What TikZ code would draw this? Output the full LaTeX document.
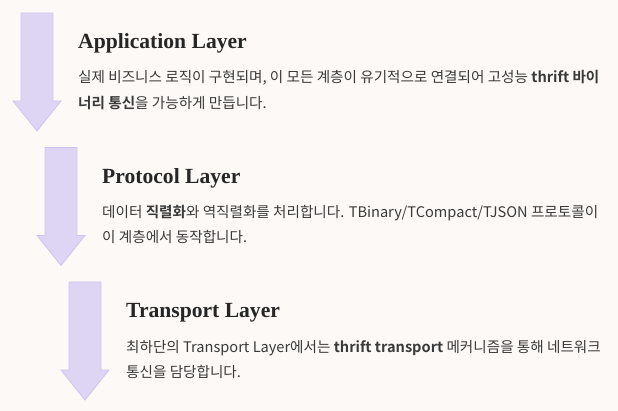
\documentclass[tikz,border=0pt]{standalone}
\usepackage{fontspec}
\setmainfont{Noto Sans CJK KR}[BoldFont={Noto Sans CJK KR Bold}]
\newfontfamily\headfont{Liberation Serif}
\definecolor{paper}{HTML}{FDF9F6}
\definecolor{lav}{HTML}{DDD5F3}
\definecolor{lavline}{HTML}{CFC5EE}
\definecolor{ink}{HTML}{262626}
\definecolor{bodyink}{HTML}{3A3A3A}
\usetikzlibrary{positioning}
\usetikzlibrary{calc}

\begin{document}
\begin{tikzpicture}[x=1pt,y=-1pt,
	layerhead/.style={anchor=base west,inner sep=0pt,text=ink,
		font=\headfont\bfseries\fontsize{21.6}{21.6}\selectfont},
	layerbody/.style={anchor=base west,inner sep=0pt,align=left,text=bodyink,
		font=\fontsize{14.6}{25.5}\selectfont}]
	\fill[paper] (0,0) rectangle (618,411);
	\useasboundingbox (0,0) rectangle (618,411);
	% arrows
	\foreach \i [count=\ii from 0] in {app, proto, trans}
	\filldraw[fill=lav, draw=lavline, line width=0.8pt, line join=miter]
	($(21,13)+(24*\ii,134.5*\ii)$) -- ++(32,0) -- ++(0,88) -- ++(8,0)
	-- ++(-24,30) -- ++(-24,-30) -- ++(8,0) -- cycle;
	% headings
	\node[layerhead] (apphead) at (78,49) {Application Layer};
	\node[layerhead] (protohead) at (102,183.5) {Protocol Layer};
	\node[layerhead] (transhead) at (126,318) {Transport Layer};
	% texts (base = second line)
	\node[layerbody] (appbody) at (78,108.5)
	{실제 비즈니스 로직이 구현되며, 이 모든 계층이 유기적으로 연결되어 고성능 \textbf{thrift 바이}\\
	\textbf{너리 통신}을 가능하게 만듭니다.};
	\node[layerbody] (protobody) at (102,243)
	{데이터 \textbf{직렬화}와 역직렬화를 처리합니다. TBinary/TCompact/TJSON 프로토콜이\\
	이 계층에서 동작합니다.};
	\node[layerbody] (transbody) at (126,377.5)
	{최하단의 Transport Layer에서는 \textbf{thrift transport} 메커니즘을 통해 네트워크\\
	통신을 담당합니다.};
\end{tikzpicture}
\end{document}
